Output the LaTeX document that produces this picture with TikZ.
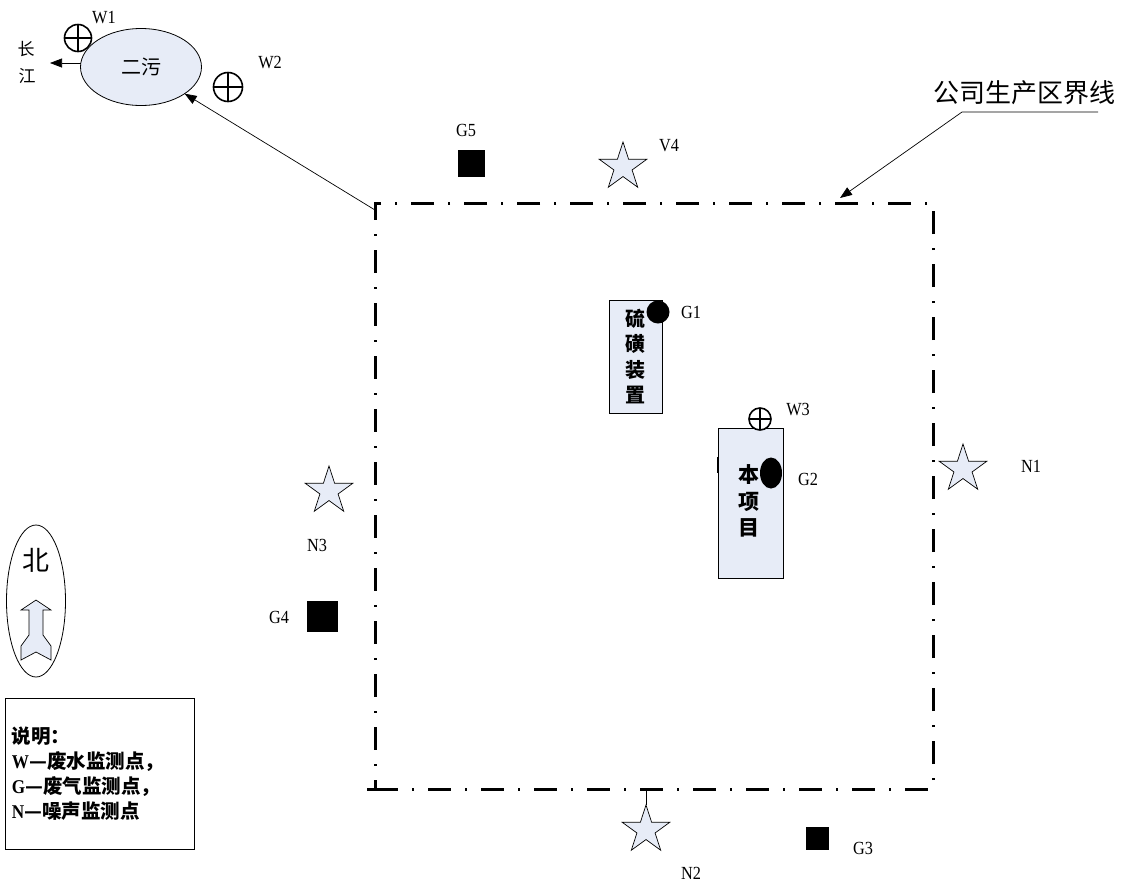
\documentclass[tikz,border=0pt]{standalone}
\usepackage{fontspec}
\setmainfont{Liberation Serif}
\newfontfamily\cjk{Noto Sans CJK SC}
\newfontfamily\lab[FakeStretch=0.88]{Liberation Serif}
\usetikzlibrary{shapes.geometric,arrows.meta}
\definecolor{lightfill}{RGB}{231,236,247}
\begin{document}
\begin{tikzpicture}[x=1pt,y=-1pt,
  fillshape/.style={draw, fill=lightfill, line width=0.8pt, inner sep=0pt, outer sep=0pt},
  cplus/.style={circle, draw, line width=1.6pt, inner sep=0pt, outer sep=0pt, minimum size=#1},
  starm/.style={star, star points=5, star point ratio=2.618, draw, fill=lightfill, line width=0.7pt, inner sep=0pt, outer sep=0pt, minimum size=50pt},
  sq/.style={fill=black, inner sep=0pt, minimum size=#1},
  lbl/.style={font=\lab\fontsize{18.5}{18.5}\selectfont},
  arr/.style={-{Triangle[length=12pt,width=9pt]}, line width=0.7pt},
  bound/.style={draw, line width=3pt, dash pattern=on 23pt off 14pt on 2pt off 14pt, minimum width=558pt, minimum height=586pt, inner sep=0pt, outer sep=0pt}
]
\useasboundingbox (0,0) rectangle (1127,887);

% boundary
\node[bound] (bd) at (654,496) {};
\draw[line width=3pt] (bd.south west) -- ++(-8,0);

% ellipse 二污
\node[ellipse, fillshape, minimum width=121pt, minimum height=77pt, font=\cjk\fontsize{20}{20}\selectfont] (ew) at (141,67) {二污};
\coordinate (c1) at ([yshift=-7pt]bd.north west);
\draw[arr] (c1) -- (ew);
\coordinate (cj) at (50,63);
\draw[arr] ([yshift=4pt]ew.west) -- (cj);
\node[font=\cjk\fontsize{17}{17}\selectfont] (chang) at (26,49) {长};
\node[font=\cjk\fontsize{17}{17}\selectfont] (jiang) at (27,76) {江};

% W1, W2
\node[cplus=27pt] (w1) at (78,38) {};
\draw[line width=1.6pt] (w1.north) -- (w1.south) (w1.west) -- (w1.east);
\node[lbl] (lw1) at (104,18) {W1};
\node[cplus=29pt] (w2) at (228,87) {};
\draw[line width=1.6pt] (w2.north) -- (w2.south) (w2.west) -- (w2.east);
\node[lbl] (lw2) at (270,63) {W2};

% title and leader
\node[font=\cjk\fontsize{26}{26}\selectfont] (ttl) at (1024,93) {公司生产区界线};
\coordinate (le1) at (1098,112);
\coordinate (le2) at (962,112);
\draw[arr] (le1) -- (le2) -- ([xshift=186pt,yshift=5pt]bd.north);

% G5, V4
\node[sq=27pt] (g5) at (471,163) {};
\node[lbl] (lg5) at (466,130) {G5};
\node[starm] (v4) at (623,167) {};
\node[lbl] (lv4) at (669,146) {V4};

% 硫磺装置
\node[fillshape, minimum width=53pt, minimum height=113pt, align=center, font=\cjk\bfseries\fontsize{20}{25.5}\selectfont] (sl) at (635.5,356.5) {硫\\磺\\装\\置};
\node[circle, fill=black, inner sep=0pt, minimum size=23pt] (g1) at (658,312) {};
\node[lbl] (lg1) at (691,312) {G1};

% 本项目
\node[fillshape, minimum width=65pt, minimum height=150pt] (bp) at (750.5,503) {};
\node[align=center, font=\cjk\bfseries\fontsize{21}{26.5}\selectfont] (bpt) at (749,501) {本\\项\\目};
\draw[line width=2pt] ([yshift=46pt]bp.west) -- ([yshift=30pt]bp.west);
\node[ellipse, fill=black, inner sep=0pt, minimum width=22pt, minimum height=31pt] (g2) at (771,473) {};
\node[lbl] (lg2) at (808,479) {G2};
\node[cplus=22pt, fill=white] (w3) at (760,419) {};
\draw[line width=1.6pt] (w3.north) -- (w3.south) (w3.west) -- (w3.east);
\node[lbl] (lw3) at (798,410) {W3};

% N1
\node[starm] (n1) at (963,469) {};
\node[lbl] (ln1) at (1031,466) {N1};

% N3, G4
\node[starm] (n3) at (329,491) {};
\node[lbl] (ln3) at (317,545) {N3};
\node[sq=31pt] (g4) at (322.5,616.5) {};
\node[lbl] (lg4) at (279,617) {G4};

% N2, G3
\node[starm] (n2) at (646,830) {};
\draw[line width=0.8pt] ([xshift=-8pt]bd.south) -- (n2.north);
\node[lbl] (ln2) at (691,873) {N2};
\node[sq=23pt] (g3) at (817.5,838.5) {};
\node[lbl] (lg3) at (863,848) {G3};

% compass
\node[ellipse, draw, line width=0.8pt, minimum width=59pt, minimum height=152pt, inner sep=0pt] (cmp) at (36,601) {};
\node[font=\cjk\fontsize{27}{27}\selectfont] (bei) at (36,560) {北};
\draw[fill=lightfill, line width=0.7pt] (36,600) -- (51,610) -- (43,610) -- (43,635) -- (51,646) -- (51,660) -- (36,652) -- (21,660) -- (21,646) -- (29,635) -- (29,610) -- (21,610) -- cycle;

% legend
\node[draw, line width=0.8pt, minimum width=189pt, minimum height=151pt, text width=175pt, inner xsep=7pt, align=left, font=\cjk\bfseries\fontsize{19.5}{25}\selectfont] (leg) at (99.5,773.5)
 {说明：\\{\lab\bfseries W}—废水监测点，\\{\lab\bfseries G}—废气监测点，\\{\lab\bfseries N}—噪声监测点};
\end{tikzpicture}
\end{document}
